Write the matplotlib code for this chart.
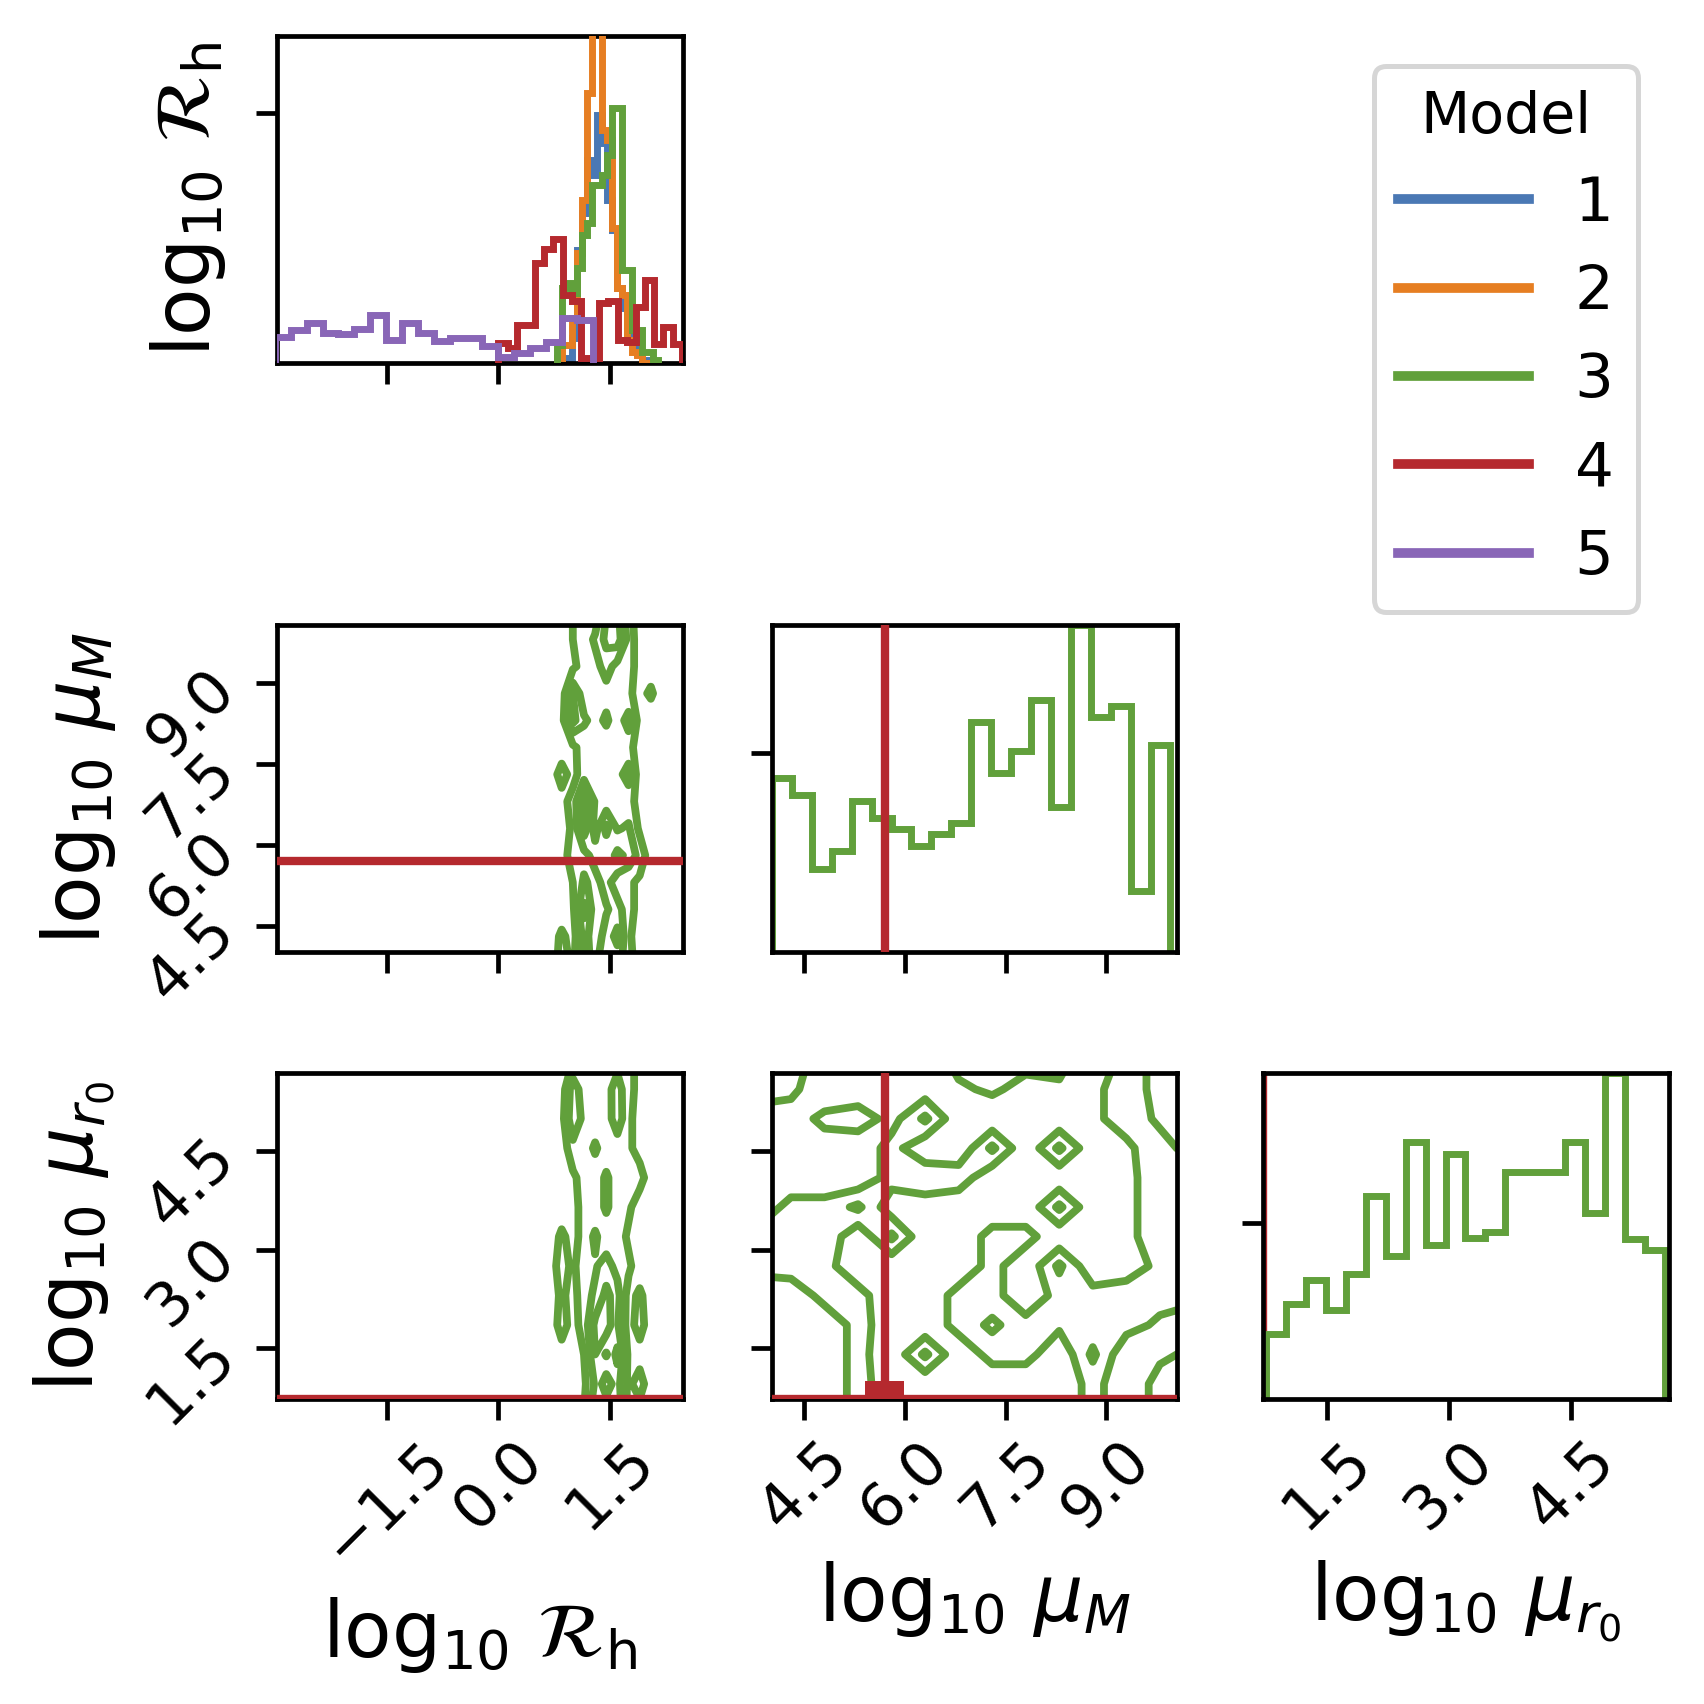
import numpy as np
import matplotlib
matplotlib.use("Agg")
import matplotlib.pyplot as plt
from matplotlib.lines import Line2D

# ---------------- data ----------------
models = ["1", "2", "3", "4", "5"]
colors = ["#4a78b4", "#e67e22", "#61a03b", "#b5292e", "#8966b7"]

# log10 R_h histograms: (first edge, last edge) and bin heights
rh_range_m123 = (0.79, 2.14)
rh_hist_m1 = [0.0, 0.01, 0.02, 0.10, 0.45, 0.60, 0.81, 0.75, 0.99, 0.88,
              0.65, 0.53, 0.30, 0.22, 0.12, 0.09, 0.04, 0.01, 0.0, 0.0]
rh_hist_m2 = [0.017, 0.07, 0.07, 0.18, 0.44, 0.65, 1.08, 1.45, 1.45, 0.93,
              0.89, 0.54, 0.30, 0.27, 0.09, 0.044, 0.03, 0.0, 0.0, 0.0]
rh_hist_m3 = [0.07, 0.30, 0.32, 0.28, 0.38, 0.51, 0.56, 0.71, 0.71, 0.75,
              0.83, 1.02, 1.02, 0.37, 0.37, 0.13, 0.13, 0.044, 0.044, 0.01]
rh_range_m4 = (0.0, 2.465)
rh_hist_m4 = [0.08, 0.057, 0.15, 0.15, 0.40, 0.453, 0.497, 0.27, 0.248, 0.02,
              0.02, 0.237, 0.247, 0.09, 0.084, 0.224, 0.33, 0.075, 0.144, 0.075]
rh_range_m5 = (-3.01, 1.277)
rh_hist_m5 = [0.104, 0.13, 0.16, 0.12, 0.115, 0.135, 0.19, 0.09, 0.157, 0.12,
              0.088, 0.10, 0.10, 0.067, 0.024, 0.037, 0.057, 0.084, 0.18, 0.17]

# log10 mu_M and log10 mu_r0 histograms of model 3
mum_range_m3 = (4.018, 9.958)
mum_hist_m3 = [0.874, 0.79, 0.42, 0.51, 0.76, 0.673, 0.618, 0.534, 0.593, 0.648,
               1.157, 0.90, 1.013, 1.269, 0.731, 1.645, 1.185, 1.24, 0.306, 1.042]
mur0_range_m3 = (0.749, 5.66)
mur0_hist_m3 = [0.368, 0.538, 0.675, 0.506, 0.708, 1.151, 0.811, 1.458, 0.877, 1.39,
                0.915, 0.949, 1.289, 1.289, 1.289, 1.458, 1.053, 1.849, 0.911, 0.845]

# model 4: fixed parameter values
m4_muM = 5.70
m4_mur0 = 0.72
m4_box_top = 0.99

# model 3 2D densities (estimated from the contours)
rh_grid = [0.55, 0.7, 0.85, 1.0, 1.15, 1.3, 1.45, 1.6, 1.75, 1.9, 2.05, 2.2]
mum_grid = [3.8, 4.3, 4.8, 5.3, 5.8, 6.3, 6.8, 7.3, 7.8, 8.3, 8.8, 9.3, 9.8, 10.3]
mur0_grid = [0.5, 0.95, 1.4, 1.85, 2.3, 2.75, 3.2, 3.65, 4.1, 4.55, 5.0, 5.45, 5.9]

dens_rh_mum = [  # rows: mum_grid (bottom -> top), cols: rh_grid
    [0, 0.05, 0.30, 0.15, 0.50, 0.35, 0.65, 0.50, 0.30, 0.05, 0, 0],
    [0, 0.05, 0.25, 0.10, 0.50, 0.30, 0.50, 0.65, 0.25, 0.05, 0, 0],
    [0, 0, 0.05, 0.15, 0.65, 0.30, 0.40, 0.50, 0.30, 0.10, 0, 0],
    [0, 0, 0.05, 0.20, 0.45, 0.35, 0.50, 0.30, 0.25, 0.15, 0, 0],
    [0, 0, 0.10, 0.30, 0.35, 0.50, 0.45, 0.65, 0.55, 0.35, 0.05, 0],
    [0, 0, 0.05, 0.25, 0.70, 0.35, 0.65, 0.40, 0.45, 0.15, 0, 0],
    [0, 0, 0.10, 0.30, 0.70, 0.40, 0.30, 0.35, 0.30, 0.10, 0, 0],
    [0, 0.05, 0.30, 0.10, 0.35, 0.30, 0.30, 0.35, 0.50, 0.05, 0, 0],
    [0, 0, 0.05, 0.15, 0.30, 0.30, 0.30, 0.25, 0.30, 0.05, 0, 0],
    [0, 0, 0.10, 0.65, 0.45, 0.35, 0.45, 0.30, 0.50, 0.10, 0, 0],
    [0, 0, 0.05, 0.60, 0.30, 0.30, 0.35, 0.35, 0.25, 0.10, 0.25, 0],
    [0, 0, 0.05, 0.15, 0.30, 0.35, 0.50, 0.35, 0.30, 0.10, 0.05, 0],
    [0, 0, 0.05, 0.20, 0.30, 0.45, 0.65, 0.70, 0.35, 0.05, 0, 0],
    [0, 0, 0.05, 0.20, 0.35, 0.30, 0.60, 0.65, 0.30, 0.05, 0, 0],
]

dens_rh_mur0 = [  # rows: mur0_grid (bottom -> top), cols: rh_grid
    [0, 0, 0.05, 0.10, 0.20, 0.60, 0.45, 0.60, 0.10, 0.10, 0, 0],
    [0, 0, 0.05, 0.10, 0.15, 0.45, 0.70, 0.50, 0.15, 0.30, 0.05, 0],
    [0, 0, 0.10, 0.10, 0.20, 0.60, 0.40, 0.65, 0.15, 0.10, 0, 0],
    [0, 0.05, 0.30, 0.10, 0.30, 0.65, 0.70, 0.45, 0.10, 0.30, 0.05, 0],
    [0, 0.05, 0.25, 0.10, 0.35, 0.45, 0.65, 0.50, 0.10, 0.25, 0.05, 0],
    [0, 0.10, 0.30, 0.15, 0.35, 0.40, 0.50, 0.35, 0.25, 0.05, 0, 0],
    [0, 0.05, 0.25, 0.10, 0.30, 0.45, 0.30, 0.35, 0.15, 0.05, 0, 0],
    [0, 0, 0.05, 0.10, 0.30, 0.30, 0.45, 0.30, 0.25, 0.05, 0, 0],
    [0, 0, 0.05, 0.15, 0.30, 0.30, 0.45, 0.30, 0.35, 0.30, 0.05, 0],
    [0, 0, 0.05, 0.35, 0.30, 0.45, 0.30, 0.30, 0.25, 0.10, 0, 0],
    [0, 0, 0.10, 0.60, 0.35, 0.30, 0.30, 0.55, 0.25, 0.10, 0, 0],
    [0, 0, 0.05, 0.55, 0.30, 0.30, 0.35, 0.50, 0.30, 0.10, 0, 0],
    [0, 0, 0.05, 0.20, 0.30, 0.35, 0.30, 0.35, 0.30, 0.10, 0, 0],
]

dens_mum_mur0_top_first = [  # rows: mur0_grid (top -> bottom), cols: mum_grid
    [0.8, 0.8, 0.2, 0.2, 0.3, 0.3, 0.6, 0.7, 0.6, 0.6, 0.3, 0.6, 0.85, 0.85],
    [0.7, 0.6, 0.2, 0.3, 0.3, 0.35, 0.45, 0.55, 0.4, 0.45, 0.45, 0.6, 0.85, 0.85],
    [0.3, 0.3, 0.6, 0.65, 0.4, 0.8, 0.3, 0.3, 0.3, 0.3, 0.45, 0.6, 0.8, 0.85],
    [0.2, 0.3, 0.3, 0.3, 0.6, 0.3, 0.3, 0.8, 0.3, 0.8, 0.3, 0.45, 0.65, 0.85],
    [0.3, 0.3, 0.3, 0.3, 0.6, 0.7, 0.65, 0.3, 0.3, 0.3, 0.35, 0.45, 0.6, 0.6],
    [0.3, 0.6, 0.6, 0.8, 0.35, 0.35, 0.3, 0.3, 0.3, 0.8, 0.3, 0.45, 0.6, 0.6],
    [0.6, 0.6, 0.7, 0.3, 0.8, 0.3, 0.3, 0.6, 0.6, 0.3, 0.3, 0.45, 0.6, 0.6],
    [0.6, 0.65, 0.6, 0.3, 0.3, 0.3, 0.3, 0.6, 0.3, 0.8, 0.3, 0.4, 0.55, 0.6],
    [0.3, 0.3, 0.6, 0.6, 0.3, 0.3, 0.6, 0.6, 0.3, 0.6, 0.6, 0.6, 0.6, 0.6],
    [0.3, 0.3, 0.3, 0.6, 0.35, 0.3, 0.6, 0.8, 0.6, 0.55, 0.6, 0.6, 0.45, 0.3],
    [0.3, 0.3, 0.3, 0.6, 0.3, 0.8, 0.3, 0.6, 0.6, 0.3, 0.8, 0.3, 0.45, 0.55],
    [0.3, 0.3, 0.3, 0.6, 0.35, 0.3, 0.3, 0.3, 0.3, 0.3, 0.6, 0.3, 0.6, 0.6],
    [0.3, 0.3, 0.3, 0.6, 0.3, 0.3, 0.3, 0.3, 0.3, 0.3, 0.6, 0.3, 0.6, 0.6],
]

# axis limits and ticks
rh_lim = (-2.98, 2.48)
mum_lim = (4.01, 10.06)
mur0_lim = (0.712, 5.70)
rh_ticks = [-1.5, 0.0, 1.5]
mum_ticks = [4.5, 6.0, 7.5, 9.0]
mur0_ticks = [1.5, 3.0, 4.5]

lab_rh = r"$\log_{10}\,\mathcal{R}_\mathrm{h}$"
lab_mum = r"$\log_{10}\,\mu_M$"
lab_mur0 = r"$\log_{10}\,\mu_{r_0}$"

# ---------------- figure ----------------
fig = plt.figure(figsize=(8.52, 8.52), dpi=200)
W, H = 0.23815, 0.19167
lefts = [0.16256, 0.45276, 0.74102]
bottoms = [0.78715, 0.44131, 0.17870]

TICK_FS = 22
LAB_FS = 28
LAB_PAD = 6.5
HIST_LW = 2.5
CONT_LW = 2.8
RED_LW = 3.0


def make_ax(r, c):
    ax = fig.add_axes([lefts[c], bottoms[r], W, H])
    for s in ax.spines.values():
        s.set_linewidth(1.7)
    ax.tick_params(axis="both", direction="out", length=7.5, width=1.7,
                   labelsize=TICK_FS)
    return ax


def stairs(ax, vals, rng, color, lw=HIST_LW, z=2):
    edges = np.linspace(rng[0], rng[1], len(vals) + 1)
    ax.stairs(vals, edges, color=color, lw=lw, zorder=z)


# --- (0,0) R_h histogram
ax00 = make_ax(0, 0)
stairs(ax00, rh_hist_m1, rh_range_m123, colors[0], z=2)
stairs(ax00, rh_hist_m2, rh_range_m123, colors[1], z=3)
stairs(ax00, rh_hist_m3, rh_range_m123, colors[2], z=4)
stairs(ax00, rh_hist_m4, rh_range_m4, colors[3], z=5)
stairs(ax00, rh_hist_m5, rh_range_m5, colors[4], z=6)
ax00.set_xlim(*rh_lim)
ax00.set_ylim(0, 1.307)
ax00.set_xticks(rh_ticks)
ax00.set_yticks([1.0])
ax00.set_xticklabels([])
ax00.set_yticklabels([])
ax00.set_ylabel(lab_rh, fontsize=LAB_FS, labelpad=LAB_PAD)

# --- (1,0) R_h vs mu_M
ax10 = make_ax(1, 0)
ax10.contour(rh_grid, mum_grid, np.array(dens_rh_mum), levels=[0.2, 0.42, 0.6],
             colors=[colors[2]], linewidths=CONT_LW)
ax10.axhline(m4_muM, color=colors[3], lw=RED_LW, zorder=5)
ax10.set_xlim(*rh_lim)
ax10.set_ylim(*mum_lim)
ax10.set_xticks(rh_ticks)
ax10.set_xticklabels([])
ax10.set_yticks(mum_ticks)
ax10.set_yticklabels([f"{t:.1f}" for t in mum_ticks], rotation=45)
ax10.set_ylabel(lab_mum, fontsize=LAB_FS, labelpad=LAB_PAD)

# --- (1,1) mu_M histogram
ax11 = make_ax(1, 1)
stairs(ax11, mum_hist_m3, mum_range_m3, colors[2])
ax11.axvline(m4_muM, color=colors[3], lw=RED_LW, zorder=5)
ax11.set_xlim(*mum_lim)
ax11.set_ylim(0, 1.645)
ax11.set_xticks(mum_ticks)
ax11.set_xticklabels([])
ax11.set_yticks([1.0])
ax11.set_yticklabels([])

# --- (2,0) R_h vs mu_r0
ax20 = make_ax(2, 0)
ax20.contour(rh_grid, mur0_grid, np.array(dens_rh_mur0), levels=[0.2, 0.42, 0.6],
             colors=[colors[2]], linewidths=CONT_LW)
ax20.axhline(m4_mur0, color=colors[3], lw=RED_LW, zorder=5)
ax20.set_xlim(*rh_lim)
ax20.set_ylim(*mur0_lim)
ax20.set_xticks(rh_ticks)
ax20.set_xticklabels([f"{t:.1f}".replace("-", "\u2212") for t in rh_ticks], rotation=45)
ax20.set_yticks(mur0_ticks)
ax20.set_yticklabels([f"{t:.1f}" for t in mur0_ticks], rotation=45)
ax20.set_xlabel(lab_rh, fontsize=LAB_FS, labelpad=LAB_PAD)
ax20.set_ylabel(lab_mur0, fontsize=LAB_FS, labelpad=LAB_PAD)

# --- (2,1) mu_M vs mu_r0
ax21 = make_ax(2, 1)
ax21.contour(mum_grid, mur0_grid, np.array(dens_mum_mur0_top_first[::-1]),
             levels=[0.5, 0.75], colors=[colors[2]], linewidths=CONT_LW)
ax21.axvline(m4_muM, color=colors[3], lw=RED_LW, zorder=5)
ax21.axhline(m4_mur0, color=colors[3], lw=RED_LW, zorder=5)
ax21.bar([m4_muM], [m4_box_top - mur0_lim[0]], width=0.58, bottom=mur0_lim[0],
         color=colors[3], zorder=5)
ax21.set_xlim(*mum_lim)
ax21.set_ylim(*mur0_lim)
ax21.set_xticks(mum_ticks)
ax21.set_xticklabels([f"{t:.1f}" for t in mum_ticks], rotation=45)
ax21.set_yticks(mur0_ticks)
ax21.set_yticklabels([])
ax21.set_xlabel(lab_mum, fontsize=LAB_FS, labelpad=LAB_PAD)

# --- (2,2) mu_r0 histogram
ax22 = make_ax(2, 2)
stairs(ax22, mur0_hist_m3, mur0_range_m3, colors[2])
ax22.axvline(m4_mur0, color=colors[3], lw=RED_LW, zorder=1)
ax22.set_xlim(*mur0_lim)
ax22.set_ylim(0, 1.849)
ax22.set_xticks(mur0_ticks)
ax22.set_xticklabels([f"{t:.1f}" for t in mur0_ticks], rotation=45)
ax22.set_yticks([1.0])
ax22.set_yticklabels([])
ax22.set_xlabel(lab_mur0, fontsize=LAB_FS, labelpad=LAB_PAD)

# --- legend
handles = [Line2D([0], [0], color=c, lw=3.5) for c in colors]
leg = fig.legend(handles, models, title="Model", loc="upper right",
                 bbox_to_anchor=(0.9613, 0.9613), borderaxespad=0.0,
                 fontsize=22, title_fontsize=20.5, handlelength=2.14,
                 handletextpad=0.75, labelspacing=0.48, frameon=True)
leg.get_frame().set_linewidth(1.8)

fig.savefig("out.png", dpi=200)
